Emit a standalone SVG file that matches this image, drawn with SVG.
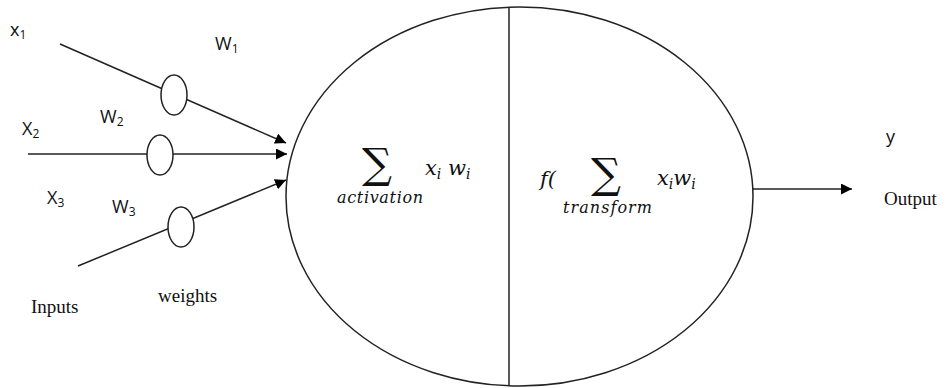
<svg xmlns="http://www.w3.org/2000/svg" width="947" height="388" viewBox="0 0 947 388">
<defs>
<marker id="arr" viewBox="0 0 10 10" refX="10" refY="5" markerWidth="11" markerHeight="11" markerUnits="userSpaceOnUse" orient="auto">
<path d="M0,0 L10,5 L0,10 z" fill="#000"/>
</marker>
<style>
.ln{stroke:#222;stroke-width:1.5;fill:none}
.wt{stroke:#222;stroke-width:1.5;fill:#fff}
.sans{font-family:"Open Sans","DejaVu Sans",sans-serif;font-size:18px;fill:#111}
.sub{font-size:12px}
.ser{font-family:"Liberation Serif",serif;font-size:19px;fill:#111}
.math{font-family:"DejaVu Serif","Liberation Serif",serif;font-style:italic;fill:#111}
.msub{font-size:14px}
.sig{font-family:"DejaVu Serif","Liberation Serif",serif;fill:#111}
</style>
</defs>
<rect width="947" height="388" fill="#fff"/>
<g id="connectors">
<line class="ln" x1="60" y1="44" x2="286" y2="143" marker-end="url(#arr)"/>
<line class="ln" x1="28" y1="154" x2="287" y2="154" marker-end="url(#arr)"/>
<line class="ln" x1="78" y1="266" x2="286" y2="180" marker-end="url(#arr)"/>
<line class="ln" x1="753" y1="189" x2="852" y2="189" marker-end="url(#arr)"/>
</g>
<g id="weight1"><ellipse class="wt" cx="174" cy="95" rx="13" ry="20"/></g>
<g id="weight2"><ellipse class="wt" cx="160" cy="155" rx="13" ry="20"/></g>
<g id="weight3"><ellipse class="wt" cx="181" cy="227" rx="13" ry="20"/></g>
<g id="neuron">
<ellipse class="ln" cx="519.5" cy="196.5" rx="233.5" ry="189.5"/>
<line class="ln" x1="509" y1="7" x2="509" y2="386"/>
<text class="sig" x="362" y="178" font-size="42">∑</text>
<text class="math" x="337" y="203" font-size="16" textLength="86">activation</text>
<text class="math" x="425" y="175" font-size="21">x<tspan class="msub" dy="4">i</tspan><tspan dy="-4"> w</tspan><tspan class="msub" dy="4">i</tspan></text>
<text class="math" x="540" y="186" font-size="21">f(</text>
<text class="sig" x="591" y="188" font-size="42">∑</text>
<text class="math" x="563" y="213" font-size="16" textLength="89">transform</text>
<text class="math" x="657" y="185" font-size="21">x<tspan class="msub" dy="4">i</tspan><tspan dy="-4">w</tspan><tspan class="msub" dy="4">i</tspan></text>
</g>
<g id="labels">
<text class="sans" x="10" y="36">x<tspan class="sub" dy="3">1</tspan></text>
<text class="sans" x="215" y="50">W<tspan class="sub" dy="3">1</tspan></text>
<text class="sans" x="22" y="135">X<tspan class="sub" dy="3">2</tspan></text>
<text class="sans" x="100" y="123">W<tspan class="sub" dy="3">2</tspan></text>
<text class="sans" x="47" y="204">X<tspan class="sub" dy="3">3</tspan></text>
<text class="sans" x="112" y="213">W<tspan class="sub" dy="3">3</tspan></text>
<text class="ser" x="31" y="313">Inputs</text>
<text class="ser" x="158" y="302">weights</text>
<text class="sans" x="886" y="143">y</text>
<text class="ser" x="884" y="205">Output</text>
</g>
</svg>
